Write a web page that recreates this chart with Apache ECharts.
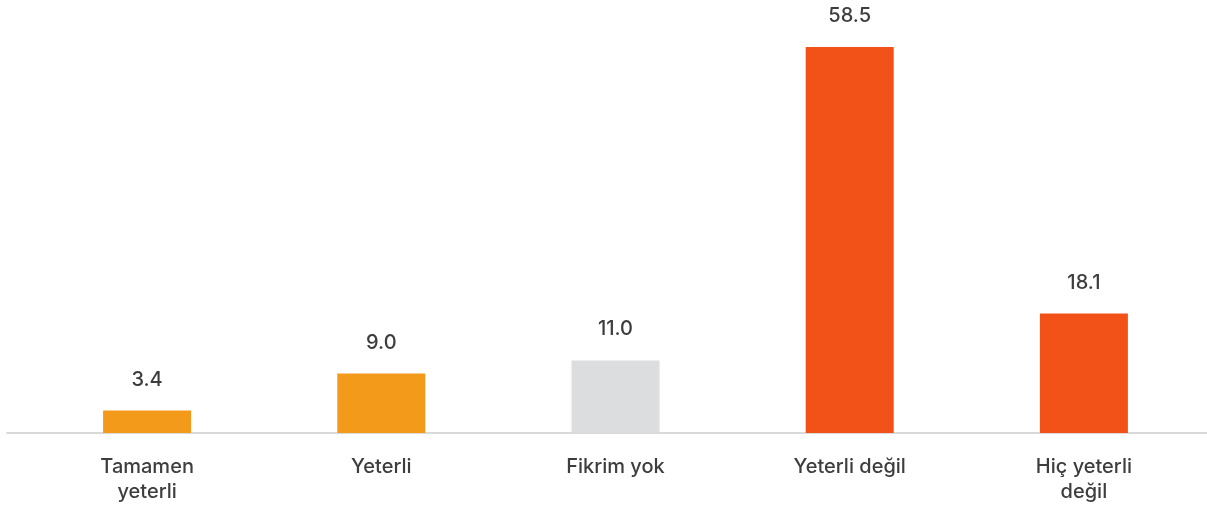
<!DOCTYPE html>
<html>
<head>
<meta charset="utf-8">
<script src="https://cdn.jsdelivr.net/npm/echarts@6/dist/echarts.min.js"></script>
<style>
  html, body { margin: 0; padding: 0; background: #fff; }
  #chart { width: 1207px; height: 508px; }
</style>
</head>
<body>
<div id="chart"></div>
<script>
// data
const categories = ['Tamamen\nyeterli', 'Yeterli', 'Fikrim yok', 'Yeterli değil', 'Hiç yeterli\ndeğil'];
const values = [3.4, 9.0, 11.0, 58.5, 18.1];
const barColors = ['#F39A1A', '#F39A1A', '#DCDDDF', '#F25118', '#F25118'];

const chart = echarts.init(document.getElementById('chart'));

const fontFamily = 'Inter, "Noto Sans", sans-serif';

const option = {
  animation: false,
  grid: [
    { left: 30, right: 6, top: 37, bottom: 75 },
    // only used to draw the long baseline
    { left: 7, right: 0, top: 37, bottom: 75 }
  ],
  xAxis: [
    {
      type: 'category',
      data: categories,
      axisLine: { show: false },
      axisTick: { show: false },
      axisLabel: {
        interval: 0,
        margin: 21,
        color: '#3d3d3d',
        fontFamily: fontFamily,
        fontSize: 20,
        fontWeight: 500,
        lineHeight: 25
      }
    },
    {
      type: 'value',
      gridIndex: 1,
      min: 0,
      max: 1,
      position: 'bottom',
      axisLine: { show: true, onZero: false, lineStyle: { color: '#D9D9D9', width: 2 } },
      axisTick: { show: false },
      axisLabel: { show: false },
      splitLine: { show: false }
    }
  ],
  yAxis: [
    {
      type: 'value',
      min: 0,
      max: 60,
      show: false
    },
    {
      type: 'value',
      gridIndex: 1,
      min: 0,
      max: 1,
      show: false
    }
  ],
  series: [
    {
      type: 'bar',
      barWidth: 88,
      data: values.map((v, i) => ({ value: v, itemStyle: { color: barColors[i] } })),
      label: {
        show: true,
        position: 'top',
        distance: 21,
        color: '#3d3d3d',
        fontFamily: fontFamily,
        fontSize: 20,
        fontWeight: 500,
        formatter: p => p.value.toFixed(1)
      }
    }
  ]
};

chart.setOption(option);
</script>
</body>
</html>
